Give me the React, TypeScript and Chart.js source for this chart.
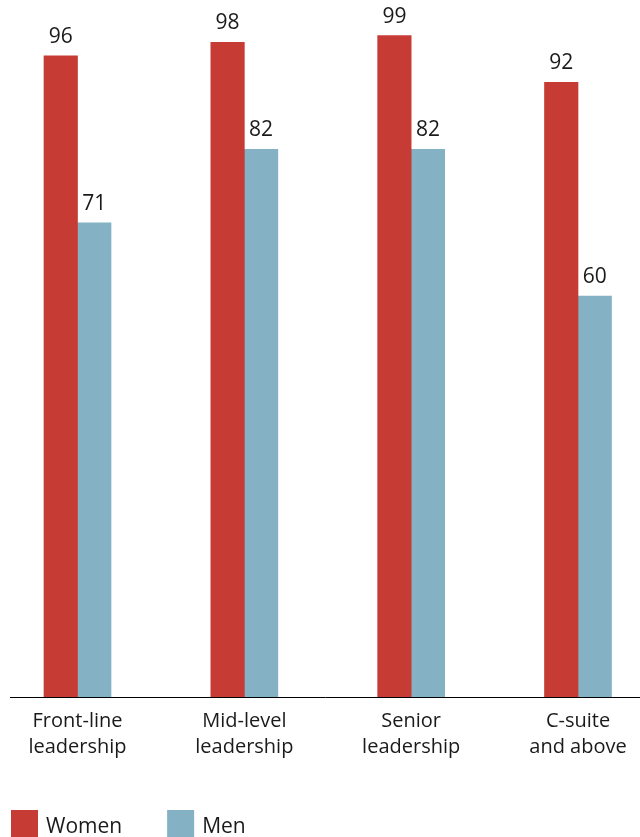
import React, { useEffect, useRef } from "react";
import { Chart, registerables } from "chart.js";

Chart.register(...registerables);

// Leadership levels (two-line axis labels)
const categories: string[][] = [
  ["Front-line", "leadership"],
  ["Mid-level", "leadership"],
  ["Senior", "leadership"],
  ["C-suite", "and above"],
];

const seriesNames = ["Women", "Men"];
const women = [96, 98, 99, 92];
const men = [71, 82, 82, 60];

const seriesColors = ["#c63c35", "#84b1c4"];
const textColor = "#1a1a1a";
const fontFamily = "'Open Sans', sans-serif";

// Numeric labels above each bar
const valueLabels = {
  id: "valueLabels",
  afterDatasetsDraw(chart: any) {
    const { ctx } = chart;
    ctx.save();
    ctx.font = `21px ${fontFamily}`;
    ctx.fillStyle = textColor;
    ctx.textAlign = "center";
    ctx.textBaseline = "alphabetic";
    chart.data.datasets.forEach((ds: any, di: number) => {
      const meta = chart.getDatasetMeta(di);
      meta.data.forEach((bar: any, i: number) => {
        const v = ds.data[i].y;
        ctx.fillText(String(v), bar.x, bar.y - 13);
      });
    });
    ctx.restore();
  },
};

// Square-swatch legend along the bottom edge
const swatchLegend = {
  id: "swatchLegend",
  afterDraw(chart: any) {
    const { ctx } = chart;
    const box = 27;
    let x = 11;
    const top = chart.height - box;
    ctx.save();
    ctx.font = `21px ${fontFamily}`;
    ctx.textAlign = "left";
    ctx.textBaseline = "alphabetic";
    chart.data.datasets.forEach((ds: any) => {
      ctx.fillStyle = ds.backgroundColor;
      ctx.fillRect(x, top, box, box);
      ctx.fillStyle = textColor;
      const tx = x + box + 8;
      ctx.fillText(ds.label, tx, top + 22.5);
      x = tx + ctx.measureText(ds.label).width + 45;
    });
    ctx.restore();
  },
};

export default function App() {
  const canvasRef = useRef<HTMLCanvasElement | null>(null);

  useEffect(() => {
    document.body.style.margin = "0";
    const canvas = canvasRef.current;
    if (!canvas) return;

    const seriesValues = [women, men];
    const chart = new Chart(canvas, {
      type: "bar",
      data: {
        datasets: seriesValues.map((vals, si) => ({
          label: seriesNames[si],
          data: vals.map((v, i) => ({ x: i, y: v })),
          backgroundColor: seriesColors[si],
          borderWidth: 0,
          barThickness: 33.5,
        })),
      },
      options: {
        animation: false,
        responsive: true,
        maintainAspectRatio: false,
        layout: { padding: { top: 29, left: 10, right: 0, bottom: 0 } },
        plugins: {
          legend: { display: false },
          tooltip: { enabled: false },
        },
        scales: {
          x: {
            type: "linear",
            offset: false,
            min: -0.4046,
            max: 3.3716,
            grid: { display: false, drawTicks: false, offset: false },
            border: { display: true, color: "#000000", width: 1 },
            ticks: {
              autoSkip: false,
              maxRotation: 0,
              padding: 11,
              color: textColor,
              font: { family: fontFamily, size: 20, lineHeight: 1.3 },
              callback: (v: any) => categories[Number(v)] ?? "",
            },
            afterBuildTicks: (scale: any) => {
              scale.ticks = categories.map((_, i) => ({ value: i }));
            },
            afterFit: (scale: any) => {
              scale.height = 140;
            },
          },
          y: {
            display: false,
            min: 0,
            max: 100,
          },
        },
      },
      plugins: [valueLabels, swatchLegend],
    });

    return () => chart.destroy();
  }, []);

  return (
    <div style={{ position: "relative", width: 640, height: 837 }}>
      <canvas ref={canvasRef} />
    </div>
  );
}
